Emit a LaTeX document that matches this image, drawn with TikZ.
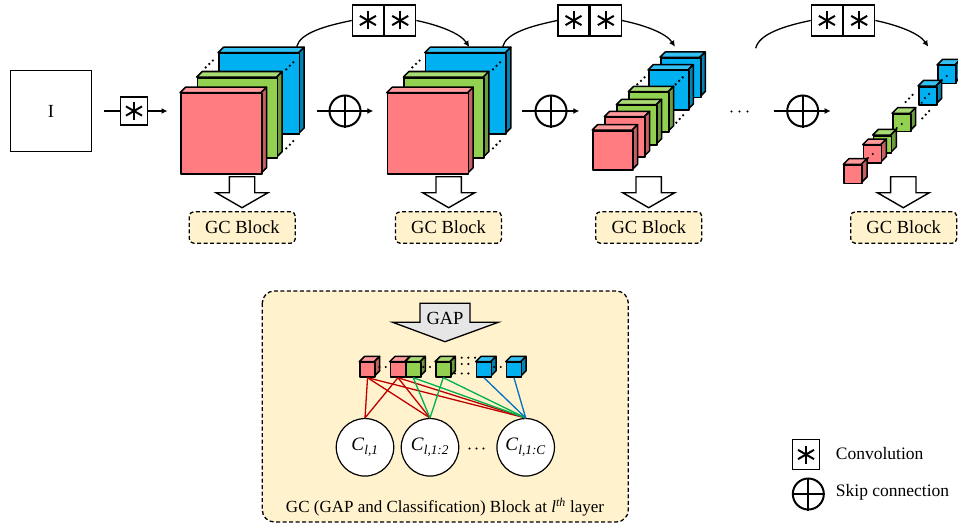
\documentclass[tikz,border=0pt]{standalone}
\usepackage{fontspec}
\setmainfont{Liberation Serif}
\usetikzlibrary{arrows.meta}
\definecolor{redF}{HTML}{FF7C80}\definecolor{redT}{HTML}{FF9A9D}\definecolor{redS}{HTML}{C45F62}
\definecolor{grnF}{HTML}{92D050}\definecolor{grnT}{HTML}{A9DA74}\definecolor{grnS}{HTML}{6E9C3C}
\definecolor{bluF}{HTML}{00B0F0}\definecolor{bluT}{HTML}{33C0F3}\definecolor{bluS}{HTML}{0084B4}
\definecolor{panel}{HTML}{FFF2CC}\definecolor{gapgray}{HTML}{E7E6E6}
\definecolor{lnR}{HTML}{C00000}\definecolor{lnG}{HTML}{00B050}\definecolor{lnB}{HTML}{0070C0}
\tikzset{
  facebox/.style={draw=black,line width=1.5pt,inner sep=0pt,anchor=north west,line join=round},
  cubeedge/.style={draw=black,line width=1.5pt,line join=round},
  convbox/.style={draw=black,fill=white,line width=1.4pt,inner sep=0pt,minimum width=31pt,minimum height=31pt},
  starline/.style={line width=2pt,draw=black},
  plusnode/.style={circle,draw=black,line width=2pt,inner sep=0pt,minimum size=31pt,fill=white},
  conn/.style={line width=1.3pt,draw=black},
  arrowconn/.style={conn,-{Latex[length=6pt,width=6pt]}},
  gcblock/.style={draw=black,fill=panel,line width=1.3pt,dash pattern=on 4pt off 2.5pt,rounded corners=4.5pt,minimum width=106pt,minimum height=31.5pt,inner sep=0pt,font=\fontsize{18.5}{20}\selectfont},
  downarrow/.style={draw=black,fill=white,line width=1.4pt,line join=miter},
  dotline/.style={line width=1.8pt,dash pattern=on 1.8pt off 3.2pt,draw=black},
  dotc/.style={fill=black},
  redlink/.style={draw=lnR,line width=1.3pt},
  grnlink/.style={draw=lnG,line width=1.3pt},
  blulink/.style={draw=lnB,line width=1.3pt},
  classnode/.style={circle,draw=black,fill=white,line width=1.2pt,minimum size=57.5pt,inner sep=0pt},
  legendtext/.style={anchor=west,inner sep=0pt,font=\fontsize{17.5}{20}\selectfont},
}
% name, x-left, y-top, width, height, depth, colour prefix
\newcommand{\cubeat}[7]{%
  \path[cubeedge,fill=#7T] (#2,#3) -- ++(#6,-#6) -- ++(#4,0) -- ++(-#6,#6) -- cycle;
  \path[cubeedge,fill=#7S] (#2+#4,#3) -- ++(#6,-#6) -- ++(0,#5) -- ++(-#6,#6) -- cycle;
  \node[facebox,fill=#7F,minimum width=#4 pt,minimum height=#5 pt] (#1) at (#2,#3) {};
}
\newcommand{\starat}[1]{%
  \draw[starline] (#1.center) +(0,-9) -- +(0,9);
  \draw[starline] (#1.center) +(-8,-4.6) -- +(8,4.6);
  \draw[starline] (#1.center) +(-8,4.6) -- +(8,-4.6);
}
\newcommand{\plusat}[3]{%
  \node[plusnode] (#1) at (#2,#3) {};
  \draw[line width=2pt] (#1.north) -- (#1.south);
  \draw[line width=2pt] (#1.west) -- (#1.east);
}
% centre x
\newcommand{\downblock}[1]{%
  \draw[downarrow] (#1-12.7,176.7) -- (#1+12.7,176.7) -- (#1+12.7,192.7) -- (#1+26,192.7) -- (#1,207.7) -- (#1-26,192.7) -- (#1-12.7,192.7) -- cycle;
}
% prefix, x of left box, y: two convolutions
\newcommand{\twoconv}[2]{%
  \node[convbox,anchor=north west] (#1a) at (#2,4.3) {};
  \node[convbox,anchor=north west] (#1b) at (#2+32.3,4.3) {};
  \starat{#1a}\starat{#1b}
}
\begin{document}
\begin{tikzpicture}[x=1pt,y=-1pt]
\useasboundingbox (0,0) rectangle (958,527);
% input
\node[draw=black,line width=1.4pt,minimum width=80.5pt,minimum height=80.5pt,inner sep=0pt,font=\fontsize{18.5}{20}\selectfont] (img) at (51,111) {I};
\node[draw=black,fill=white,line width=1.4pt,minimum width=27.5pt,minimum height=28pt,inner sep=0pt] (conv0) at (134,111) {};
\starat{conv0}
\coordinate (in0) at (104,111);
\coordinate (out0) at (167.5,111);
\draw[conn] (in0) -- (conv0.west);
\draw[arrowconn] (conv0.east) -- (out0);
% layer 1
\cubeat{a3}{218}{52.7}{80.7}{80.7}{5.5}{blu}
\cubeat{a2}{196.7}{77}{80}{80}{5.5}{grn}
\cubeat{a1}{180}{92.7}{81}{80.5}{5.5}{red}
\draw[dotline] (205,68) -- (213.5,60);
\draw[dotline] (285.7,70) -- (295,60.7);
\draw[dotline] (285.7,149) -- (295,139.3);
% layer 2
\cubeat{b3}{424.7}{52.7}{80.7}{80.7}{5.5}{blu}
\cubeat{b2}{403.4}{77}{80}{80}{5.5}{grn}
\cubeat{b1}{386.7}{92.7}{81}{80.5}{5.5}{red}
\draw[dotline] (411.7,68) -- (420.2,60);
\draw[dotline] (492.4,70) -- (501.7,60.7);
\draw[dotline] (492.4,149) -- (501.7,139.3);
% layer 3
\cubeat{c6}{660}{57.3}{40}{39.4}{5.3}{blu}
\cubeat{c5}{648}{70}{40}{39.4}{5.3}{blu}
\cubeat{c4}{628.3}{91.7}{40}{39.4}{5.3}{grn}
\cubeat{c3}{616.3}{104.7}{40}{39.4}{5.3}{grn}
\cubeat{c2}{604.3}{116.7}{40}{39.4}{5.3}{red}
\cubeat{c1}{592.3}{130}{40}{39.4}{5.3}{red}
\draw[dotline] (636.7,85) -- (646,76);
\draw[dotline] (675,85) -- (685,75);
\draw[dotline] (675.7,123.3) -- (685,113.3);
% last layer
\cubeat{d6}{937}{65}{18}{17.7}{5.7}{blu}
\cubeat{d5}{918}{86}{18}{18}{5.7}{blu}
\cubeat{d4}{892}{113.3}{18}{17.4}{5.7}{grn}
\cubeat{d3}{872.7}{135}{18}{17.4}{5.7}{grn}
\cubeat{d2}{862.7}{144.7}{18}{17.4}{5.7}{red}
\cubeat{d1}{843.3}{164.3}{18}{18.4}{5.7}{red}
\draw[dotline] (905,102.7) -- (914,93.3);
\draw[dotline] (921.7,119) -- (930.7,109.3);
\foreach \px/\py in {872.7/154,868/158,901.7/124,896.7/128,929/94,925/98,921.7/102.7,946.7/76,941.7/80}
  \fill[dotc] (\px,\py) circle (1.1pt);
% skip connections
\twoconv{s1}{351.7}
\twoconv{s2}{557.3}
\twoconv{s3}{810.7}
\coordinate (s1from) at (296.7,46.7); \coordinate (s1to) at (469.3,47);
\coordinate (s2from) at (502.7,46.7); \coordinate (s2to) at (675,46.7);
\coordinate (s3from) at (755.7,48.3); \coordinate (s3to) at (928.3,46.7);
\draw[conn] (s1from) .. controls (300,33) and (325,26) .. (s1a.west);
\draw[arrowconn] (s1b.east) .. controls (438,25) and (460,33) .. (s1to);
\draw[conn] (s2from) .. controls (506,33) and (531,26) .. (s2a.west);
\draw[arrowconn] (s2b.east) .. controls (644,25) and (666,33) .. (s2to);
\draw[conn] (s3from) .. controls (759,34) and (784,26) .. (s3a.west);
\draw[arrowconn] (s3b.east) .. controls (897,25) and (919,33) .. (s3to);
% plus operators
\plusat{p1}{345}{111}
\plusat{p2}{551}{111}
\plusat{p3}{802.7}{111}
\coordinate (p1a) at (316.7,111); \coordinate (p1b) at (373.3,111);
\coordinate (p2a) at (522.3,111); \coordinate (p2b) at (579.3,111);
\coordinate (p3a) at (773.7,111); \coordinate (p3b) at (830.7,111);
\draw[conn] (p1a) -- (p1.west); \draw[arrowconn] (p1.east) -- (p1b);
\draw[conn] (p2a) -- (p2.west); \draw[arrowconn] (p2.east) -- (p2b);
\draw[conn] (p3a) -- (p3.west); \draw[arrowconn] (p3.east) -- (p3b);
\foreach \px in {731.5,739.5,747.5} \fill[dotc] (\px,111.5) circle (1.2pt);
% GC blocks
\downblock{242}\downblock{448.7}\downblock{648.7}\downblock{903.3}
\node[gcblock] (g1) at (242.3,227.5) {GC Block};
\node[gcblock] (g2) at (448.5,227.5) {GC Block};
\node[gcblock] (g3) at (648.8,227.5) {GC Block};
\node[gcblock] (g4) at (903.7,227.5) {GC Block};
% panel
\draw[draw=black,fill=panel,line width=1.3pt,dash pattern=on 4pt off 2.5pt,rounded corners=12pt] (262.3,291) rectangle (628.3,522);
\draw[draw=black,fill=gapgray,line width=1.3pt] (420,303.3) -- (470,303.3) -- (470,322.3) -- (498.3,322.3) -- (445,341.7) -- (392.7,322.3) -- (420,322.3) -- cycle;
\node[font=\fontsize{18.5}{20}\selectfont,inner sep=0pt] (gaplabel) at (445,318) {GAP};
\cubeat{q1}{359.3}{361.7}{15}{14.5}{5.3}{red}
\cubeat{q2}{389.7}{361.7}{15}{14.5}{5.3}{red}
\cubeat{q3}{405}{361.7}{15}{14.5}{5.3}{grn}
\cubeat{q4}{435}{361.7}{15}{14.5}{5.3}{grn}
\cubeat{q5}{475.7}{361.7}{15}{14.5}{5.3}{blu}
\cubeat{q6}{505.7}{361.7}{15}{14.5}{5.3}{blu}
\foreach \px/\py in {379.3/367,385.7/367,423.3/367,430/367,494/367,500.7/367,461.7/357.7,468.3/357.7,475/357.7,461.7/364,468.3/364,455/373.5,461.7/373.5,468.3/373.5}
  \fill[dotc] (\px,\py) circle (1.2pt);
\node[classnode] (k1) at (365,447.3) {\fontsize{19}{20}\selectfont\textit{C}\textsubscript{\textit{l,1}}};
\node[classnode] (k2) at (430,447.3) {\fontsize{19}{20}\selectfont\textit{C}\textsubscript{\textit{l,1:2}}};
\node[classnode] (k3) at (525.7,447.3) {\fontsize{19}{20}\selectfont\textit{C}\textsubscript{\textit{l,1:C}}};
\foreach \px in {469.5,476.5,483.5} \fill[dotc] (\px,448.5) circle (1.2pt);
\draw[redlink] (q1.south) -- (k1.north);
\draw[redlink] (q1.south) -- (k2.north);
\draw[redlink] (q1.south) -- (k3.north);
\draw[redlink] (q2.south) -- (k1.north);
\draw[redlink] (q2.south) -- (k2.north);
\draw[redlink] (q2.south) -- (k3.north);
\draw[grnlink] (q3.south) -- (k2.north);
\draw[grnlink] (q3.south) -- (k3.north);
\draw[grnlink] (q4.south) -- (k2.north);
\draw[grnlink] (q4.south) -- (k3.north);
\draw[blulink] (q5.south) -- (k3.north);
\draw[blulink] (q6.south) -- (k3.north);
\node[font=\fontsize{17}{20}\selectfont,inner sep=0pt] (cap) at (445,507) {GC (GAP and Classification) Block at \textit{l}\textsuperscript{\textit{th}} layer};
% legend
\node[draw=black,line width=1.4pt,minimum width=27pt,minimum height=30.5pt,inner sep=0pt] (lgc) at (806,454.5) {};
\starat{lgc}
\plusat{lgp}{808.3}{494}
\node[legendtext] (lgct) at (835.7,453.5) {Convolution};
\node[legendtext] (lgpt) at (835.7,492) {Skip connection};
\end{tikzpicture}
\end{document}
